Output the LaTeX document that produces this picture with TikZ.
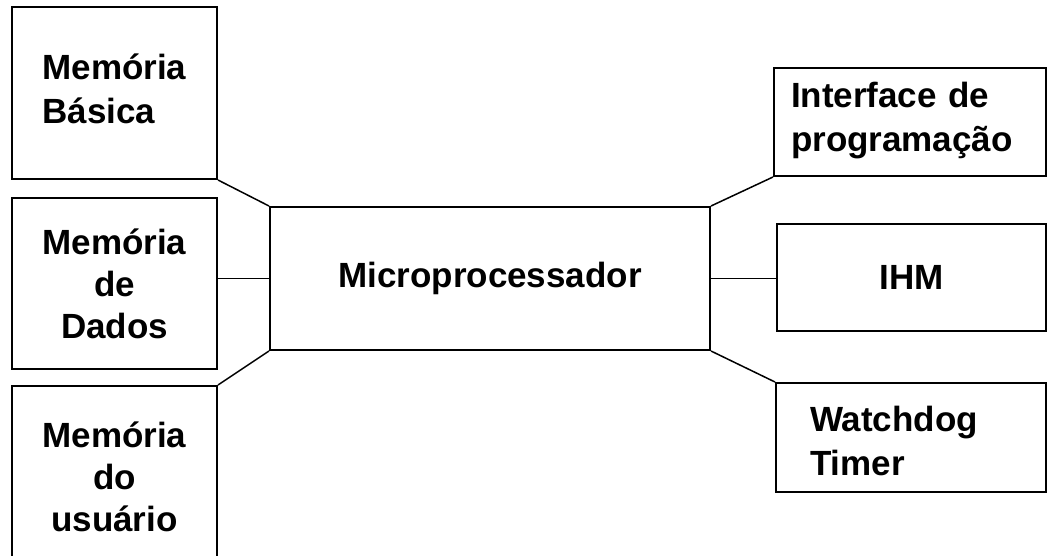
\documentclass[tikz,border=0pt]{standalone}
\usepackage{fontspec}
\setmainfont{Liberation Sans}
\usepackage{tikz}
\usetikzlibrary{positioning}
\tikzset{
  blockbox/.style={draw=black, line width=2pt, fill=white, inner sep=0pt, align=center,
    font=\fontsize{35}{42}\selectfont\bfseries},
  leftbox/.style={blockbox, align=left, font=\fontsize{35}{44}\selectfont\bfseries},
  busline/.style={draw=black, line width=1.5pt}
}

\begin{document}
\begin{tikzpicture}[x=1pt,y=-1pt]
  \useasboundingbox (0,0) rectangle (1047,555);

  % memories (left)
  \node[leftbox, minimum width=205pt, minimum height=172pt, text width=144pt, text depth=52pt] (mbasica) at (114.5,93) {Memória\\Básica};
  \node[blockbox, minimum width=205pt, minimum height=171pt] (mdados) at (114.5,283.5) {Memória\\de\\Dados};
  \node[blockbox, minimum width=205pt, minimum height=182pt] (musuario) at (114.5,477) {Memória\\do\\usuário};

  % processor
  \node[blockbox, minimum width=440pt, minimum height=143pt] (micro) at (490,278.5) {Microprocessador};

  % peripherals (right)
  \node[leftbox, minimum width=272pt, minimum height=108pt, text width=238pt, text depth=54pt] (iprog) at (910,122) {Interface de\\programação};
  \node[blockbox, minimum width=269pt, minimum height=107pt] (ihm) at (911.5,277.5) {IHM};
  \node[leftbox, minimum width=270pt, minimum height=109pt, text width=202pt, text depth=37pt] (wdog) at (911,437.5) {Watchdog\\Timer};

  % connections
  \draw[busline] (micro.north west) -- (mbasica.south east);
  \draw[busline] (micro.west) -- (micro.west -| mdados.east);
  \draw[busline] (micro.south west) -- (musuario.north east);

  \draw[busline] (micro.north east) -- (iprog.south west);
  \draw[busline] (micro.east) -- (micro.east -| ihm.west);
  \draw[busline] (micro.south east) -- (wdog.north west);

\end{tikzpicture}
\end{document}
